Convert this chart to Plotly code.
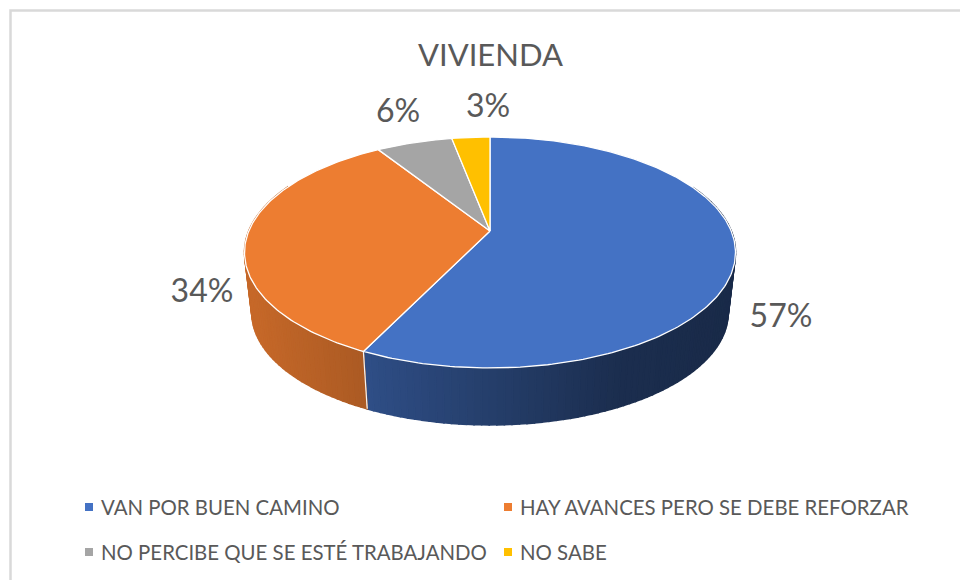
import numpy as np
import plotly.graph_objects as go

# --- data -------------------------------------------------------------
TITLE = "VIVIENDA"
CATEGORIES = [
    "VAN POR BUEN CAMINO",
    "HAY AVANCES PERO SE DEBE REFORZAR",
    "NO PERCIBE QUE SE ESTÉ TRABAJANDO",
    "NO SABE",
]
VALUES = [57.2, 33.8, 6.0, 3.0]

# --- style and layout -------------------------------------------------
COLORS = ["#4472C4", "#ED7D31", "#A5A5A5", "#FFC000"]
TEXT_COLOR = "#595959"
FONT = "Lato"
CX, CY = 490.0, 231.0          # pie apex in pixels
PERSP = 0.186                  # perspective of the tilted disc
A, B = 241.2, 111.5            # disc scale
DEPTH, SHRINK = 61.0, 0.97     # extrusion of the base
LABEL_X = [781, 202, 398, 488]
LABEL_Y = [319, 294, 114, 109]
LEGEND_X = [89, 508, 89, 508]
LEGEND_Y = [507, 507, 552, 552]
LEGEND_TEXT_GAP = 12
LEGEND_TEXT_DY = 3


def top(theta):
    u, v = np.sin(theta), np.cos(theta)
    w = 1 + PERSP * v
    return CX + A * u / w, CY - B * v / w


def base(theta):
    x, y = top(theta)
    return CX + SHRINK * (x - CX), CY + DEPTH + SHRINK * (y - CY)


def shade(hex_color, x):
    f = np.interp(x, [250, 365, 367, 620, 736], [0.835, 0.72, 0.68, 0.40, 0.37])
    r, g, b = (int(hex_color[i:i + 2], 16) for i in (1, 3, 5))
    return f"rgb({r * f:.0f},{g * f:.0f},{b * f:.0f})"


fractions = np.array(VALUES, dtype=float) / sum(VALUES)
edges = np.concatenate([[0], np.cumsum(fractions)]) * 2 * np.pi

fig = go.Figure()

# side wall, drawn as thin vertical strips so that it can carry a gradient
FRONT_START, FRONT_END = np.radians(65), np.radians(295)
for i in range(len(VALUES)):
    lo, hi = max(edges[i], FRONT_START), min(edges[i + 1], FRONT_END)
    if hi <= lo:
        continue
    steps = max(2, int(np.degrees(hi - lo) / 1.5))
    ts = np.linspace(lo, hi, steps + 1)
    for t0, t1 in zip(ts[:-1], ts[1:]):
        tx0, ty0 = top(t0)
        tx1, ty1 = top(t1)
        bx0, by0 = base(t0)
        bx1, by1 = base(t1)
        col = shade(COLORS[i], (tx0 + tx1) / 2)
        fig.add_trace(go.Scatter(
            x=[tx0, tx1, bx1, bx0, tx0], y=[ty0, ty1, by1, by0, ty0],
            mode="lines", fill="toself", fillcolor=col,
            line=dict(color=col, width=1.6),
            hoverinfo="skip", showlegend=False,
        ))

# white seam on the wall where two visible slices meet
seam = edges[1]
sx0, sy0 = top(seam)
sx1, sy1 = base(seam)
fig.add_trace(go.Scatter(
    x=[sx0, sx1], y=[sy0, sy1], mode="lines",
    line=dict(color="#f4f4f4", width=1.2),
    hoverinfo="skip", showlegend=False,
))

# top faces
for i, (name, val) in enumerate(zip(CATEGORIES, VALUES)):
    ts = np.linspace(edges[i], edges[i + 1], max(8, int(val * 4)))
    xs, ys = top(ts)
    fig.add_trace(go.Scatter(
        x=np.concatenate([[CX], xs, [CX]]), y=np.concatenate([[CY], ys, [CY]]),
        mode="lines", fill="toself", fillcolor=COLORS[i],
        line=dict(color="white", width=1.3),
        name=name, text=f"{name}: {val:.0f}%", hoverinfo="text", showlegend=False,
    ))

# percentage labels
fig.add_trace(go.Scatter(
    x=LABEL_X, y=LABEL_Y, mode="text",
    text=[f"{v:.0f}%" for v in VALUES], textposition="middle center",
    textfont=dict(family=FONT, size=32, color=TEXT_COLOR),
    hoverinfo="skip", showlegend=False,
))

# legend keys and labels
for name, col, lx, ly in zip(CATEGORIES, COLORS, LEGEND_X, LEGEND_Y):
    fig.add_trace(go.Scatter(
        x=[lx], y=[ly], mode="markers",
        marker=dict(symbol="square", size=8, color=col),
        hoverinfo="skip", showlegend=False,
    ))
    fig.add_trace(go.Scatter(
        x=[lx + LEGEND_TEXT_GAP], y=[ly + LEGEND_TEXT_DY], mode="text",
        text=[name], textposition="middle right",
        textfont=dict(family=FONT, size=20.4, color=TEXT_COLOR),
        hoverinfo="skip", showlegend=False,
    ))

fig.update_layout(
    width=960, height=580,
    margin=dict(l=0, r=0, t=0, b=0),
    paper_bgcolor="white", plot_bgcolor="white",
    showlegend=False,
    xaxis=dict(range=[0, 960], visible=False, fixedrange=True),
    yaxis=dict(range=[580, 0], visible=False, fixedrange=True),
    shapes=[dict(type="rect", xref="x", yref="y", x0=10.5, y0=10.5, x1=975, y1=595,
                 line=dict(color="#D9D9D9", width=2.5), fillcolor="rgba(0,0,0,0)", layer="below")],
    annotations=[dict(text=TITLE, xref="x", yref="y", x=490, y=54, showarrow=False,
                      font=dict(family=FONT, size=31, color=TEXT_COLOR))],
)

fig.write_html(
    "out.html",
    config=dict(displayModeBar=False),
    post_script="document.body.style.margin='0';document.body.style.overflow='hidden';",
)
